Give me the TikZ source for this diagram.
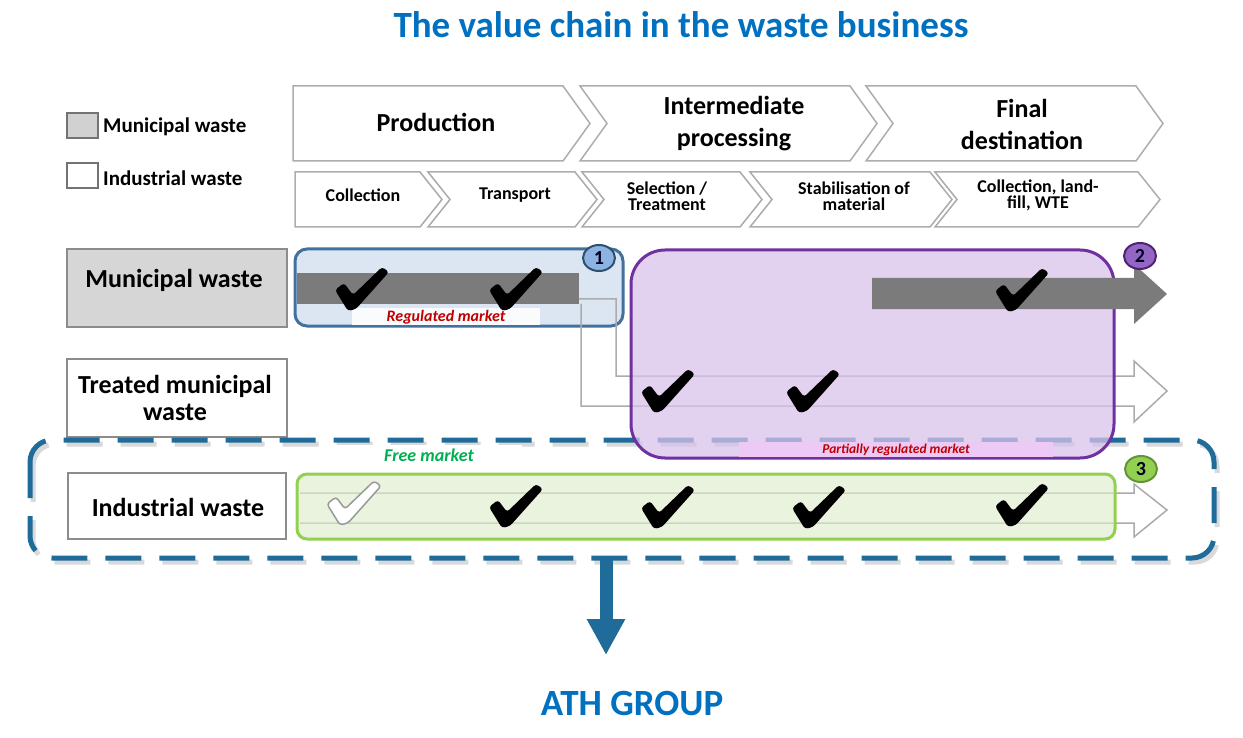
\documentclass[tikz,border=0pt]{standalone}
\usepackage{fontspec}
\setmainfont{Carlito}
\usetikzlibrary{shapes.geometric, arrows.meta}

\definecolor{titleblue}{HTML}{0070C0}
\definecolor{dashblue}{HTML}{1F6B9A}
\definecolor{regfill}{HTML}{DCE6F2}
\definecolor{regline}{HTML}{41719C}
\definecolor{badgeblue}{HTML}{8DB3E2}
\definecolor{partfill}{HTML}{D8C2EA}
\definecolor{partline}{HTML}{7030A0}
\definecolor{badgepurple}{HTML}{9366C4}
\definecolor{freefill}{HTML}{DDEDCC}
\definecolor{freeline}{HTML}{92D050}
\definecolor{marketred}{HTML}{C00000}
\definecolor{marketgreen}{HTML}{00B050}
\definecolor{bargray}{HTML}{7B7B7B}
\definecolor{partlabel}{HTML}{EDC9F6}

% chevron: left x, notch depth, end of straight top, tip x, top y, bottom y
\newcommand{\chevron}[6]{%
  \filldraw[chev] (#1,#5) -- (#3,#5) -- (#4,{(#5+#6)/2}) -- (#3,#6) -- (#1,#6) -- ({#1+#2},{(#5+#6)/2}) -- cycle;}

\begin{document}
\begin{tikzpicture}[x=1pt,y=-1pt,
  chev/.style={fill=white, draw=black!32, line width=1.5pt},
  phase/.style={font=\fontsize{26}{32}\selectfont\bfseries, align=center},
  stage/.style={font=\fontsize{18}{16}\selectfont\bfseries, align=center},
  legend/.style={font=\fontsize{21}{24}\selectfont\bfseries, anchor=west, inner sep=0pt},
  rowlabel/.style={font=\fontsize{26}{27}\selectfont\bfseries, align=center},
  rowbox/.style={draw=black!45, line width=2pt},
  lane/.style={draw=black!33, line width=1.5pt},
  market/.style={font=\fontsize{#1}{#1}\selectfont\bfseries\itshape, inner sep=0pt},
  badge/.style={ellipse, draw=#1!70!black, line width=2pt, minimum width=32pt, minimum height=26pt,
    inner sep=0pt, font=\fontsize{20}{20}\selectfont\bfseries, text=black!85!blue},
  okfill/.style={fill=black},
  okmark/.pic={\path[okfill, rounded corners=3pt]
    (-27,1) -- (-18,-6) -- (-9,6) -- (20,-22) -- (27,-17) -- (-6,20) -- (-14,22) -- cycle;},
  bigtitle/.style={font=\fontsize{37}{40}\selectfont\bfseries, text=titleblue},
]
\useasboundingbox (0,0) rectangle (1243,738);

\node[bigtitle] (title) at (681,25) {The value chain in the waste business};

% legend
\filldraw[fill=black!18, draw=black!55, line width=1.5pt] (67,113) rectangle (98,138);
\filldraw[fill=white, draw=black!55, line width=1.5pt] (67,163) rectangle (98,188);
\node[legend] (leg1) at (103,127) {Municipal waste};
\node[legend] (leg2) at (103,178) {Industrial waste};

% phases
\chevron{293}{0}{563}{590}{86}{161}
\chevron{580}{27}{850}{877}{86}{161}
\chevron{866}{27}{1136}{1163}{86}{161}
\node[phase] (prod) at (436,122) {Production};
\node[phase] (inter) at (734,124) {Intermediate\\processing};
\node[phase] (final) at (1022,124) {Final\\destination};

\chevron{295}{0}{420}{442}{172}{227}
\chevron{428}{22}{575}{597}{172}{227}
\chevron{582}{22}{740}{762}{172}{227}
\chevron{750}{22}{930}{952}{172}{227}
\chevron{935}{22}{1138}{1160}{172}{227}
\node[stage] (collect) at (363,195) {Collection};
\node[stage] (transp) at (515,195) {Transport};
\node[stage] (select) at (667,196) {Selection /\\Treatment};
\node[stage] (stabil) at (854,196) {Stabilisation of\\material};
\node[stage] (landfill) at (1038,195) {Collection, land-\\fill, WTE};

% waste streams
\filldraw[rowbox, fill=black!16] (67,249) rectangle (287,327);
\filldraw[rowbox, fill=white] (67,359) rectangle (287,437);
\filldraw[rowbox, fill=white] (68,473) rectangle (286,539);
\node[rowlabel] (munlab) at (174,280) {Municipal waste};
\node[rowlabel] (trtlab) at (175,398) {Treated municipal\\waste};
\node[rowlabel] (indlab) at (178,507) {Industrial waste};

% zone 1
\filldraw[fill=regfill, draw=regline, line width=3pt, rounded corners=12pt] (295,249) rectangle (623,326);
\fill[bargray] (297,273) rectangle (579,304);
\fill[white!85!regfill] (352,308) rectangle (540,325);
\node[market=16, text=marketred] (regmkt) at (446,317) {Regulated market};
\pic at (362,289) {okmark};
\pic at (516,289) {okmark};
\node[badge=regline, fill=badgeblue] (b1) at (599,258) {1};

% lanes
\draw[lane] (581,304) -- (581,406) -- (1134,406) -- (1134,422) -- (1167,391) -- (1134,361) -- (1134,376)
  -- (616,376) -- (616,299) -- (579,299);
\draw[lane] (300,493) -- (1134,493) -- (1134,484) -- (1167,510) -- (1134,537) -- (1134,523) -- (300,523);

% free market frame
\draw[black!25, line width=5pt, dash pattern=on 36pt off 18pt, rounded corners=22pt, opacity=0.6]
  (33,444) rectangle (1217,562);
\draw[dashblue, line width=5pt, dash pattern=on 36pt off 18pt, rounded corners=22pt]
  (30,440) rectangle (1214,558);
\fill[white] (336,445) rectangle (522,466);
\node[market=18, text=marketgreen] (freemkt) at (429,455) {Free market};

% zone 2
\filldraw[fill=partfill, fill opacity=0.75, draw=partline, line width=3pt, rounded corners=34pt]
  (631,250) rectangle (1114,458);
\fill[partlabel] (739,442) rectangle (1053,457);
\node[market=13.5, text=marketred] (partmkt) at (896,450) {Partially regulated market};
\fill[bargray] (872,278) -- (1134,278) -- (1134,264) -- (1167,294) -- (1134,324) -- (1134,309) -- (872,309) -- cycle;
\pic at (1022,290) {okmark};
\pic at (668,391) {okmark};
\pic at (813,391) {okmark};
\node[badge=partline, fill=badgepurple] (b2) at (1140,256) {2};

% zone 3
\filldraw[fill=freefill, fill opacity=0.65, draw=freeline, line width=3pt, rounded corners=10pt]
  (297,474) rectangle (1115,539);
\pic[okfill/.style={fill=white, draw=black!40, line width=1.5pt}] at (354,503) {okmark};
\pic at (516,506) {okmark};
\pic at (668,507) {okmark};
\pic at (819,507) {okmark};
\pic at (1022,505) {okmark};
\node[badge=freeline, fill=freeline] (b3) at (1141,469) {3};

% outcome
\coordinate (zoneout) at (606,557);
\coordinate (athtop) at (606,655);
\node[bigtitle] (ath) at (632,704) {ATH GROUP};
\draw[dashblue, line width=13pt, -{Triangle[width=36pt,length=36pt]}] (zoneout) -- (athtop);
\end{tikzpicture}
\end{document}
